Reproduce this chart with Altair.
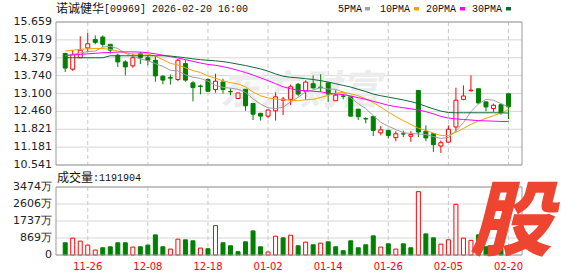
import altair as alt
import pandas as pd

dates = ["11-21","11-24","11-25","11-26","11-27","11-28","12-01","12-02","12-03","12-04",
         "12-05","12-08","12-09","12-10","12-11","12-12","12-15","12-16","12-17","12-18",
         "12-19","12-22","12-23","12-24","12-29","12-30","12-31","01-02","01-05","01-06",
         "01-07","01-08","01-09","01-12","01-13","01-14","01-15","01-16","01-19","01-20",
         "01-21","01-22","01-23","01-26","01-27","01-28","01-29","01-30","02-02","02-03",
         "02-04","02-05","02-06","02-09","02-10","02-11","02-12","02-13","02-16","02-20"]

opens = [14.53,13.97,14.38,14.73,15.03,15.12,14.86,14.47,14.23,14.09,
         14.53,14.38,14.29,13.72,13.67,13.60,14.17,13.48,13.37,13.60,
         13.24,13.51,13.17,12.92,13.25,12.74,12.39,12.29,12.48,12.86,
         12.89,13.43,13.18,13.45,13.33,13.48,12.84,13.01,12.98,12.54,
         12.20,12.28,11.69,11.78,11.52,11.66,11.57,13.21,11.75,11.66,
         11.22,11.36,11.90,12.89,13.20,13.27,12.80,12.56,12.70,13.09]
highs = [14.56,14.65,15.15,15.27,15.18,15.18,14.86,14.53,14.29,14.53,
         14.59,14.47,14.43,13.75,13.78,14.33,14.29,13.54,13.42,13.64,
         13.81,13.63,13.28,13.12,13.25,12.74,12.41,12.51,13.14,12.98,
         13.42,13.48,13.57,13.75,13.79,13.48,13.22,13.08,13.00,12.54,
         12.25,12.28,11.94,11.78,11.75,11.77,11.75,13.21,11.96,11.66,
         11.42,11.96,13.31,13.39,13.75,13.27,12.80,12.74,12.74,13.09]
lows = [13.87,13.91,14.37,14.58,14.86,14.77,14.53,14.05,13.75,14.02,
        14.15,14.11,13.52,13.43,13.42,13.54,13.52,12.82,13.07,13.16,
        13.13,13.10,13.04,12.92,12.48,12.15,12.13,12.21,12.13,12.33,
        12.69,13.00,12.86,13.28,13.16,12.80,12.84,12.89,12.27,12.15,
        12.03,11.58,11.60,11.49,11.39,11.54,11.37,11.54,11.39,11.01,
        10.97,11.36,11.72,12.86,13.17,12.74,12.46,12.44,12.34,12.18]
closes = [14.01,14.49,14.65,14.88,14.93,14.86,14.65,14.23,14.05,14.38,
          14.38,14.29,13.73,13.58,13.65,14.29,13.58,13.31,13.35,13.18,
          13.54,13.24,13.16,13.12,12.66,12.36,12.29,12.51,12.98,12.90,
          13.34,13.08,13.51,13.30,13.31,13.08,13.04,13.00,12.29,12.27,
          12.19,11.78,11.80,11.60,11.66,11.65,11.63,11.72,11.51,11.27,
          11.34,11.82,12.86,13.01,13.22,12.76,12.62,12.68,12.41,12.62]

ma5 = [14.45,14.50,14.55,14.60,14.62,14.76,14.79,14.71,14.54,14.43,
       14.34,14.27,14.17,14.07,13.93,13.91,13.77,13.68,13.64,13.54,
       13.39,13.32,13.29,13.25,13.14,12.91,12.72,12.59,12.56,12.61,
       12.80,12.96,13.16,13.23,13.31,13.26,13.25,13.15,12.94,12.74,
       12.56,12.31,12.07,11.93,11.81,11.70,11.67,11.65,11.63,11.56,
       11.49,11.53,11.76,12.06,12.45,12.73,12.89,12.86,12.74,12.62]
ma10 = [14.62,14.65,14.68,14.70,14.71,14.71,14.68,14.62,14.56,14.51,
        14.52,14.51,14.44,14.31,14.18,14.12,14.02,13.92,13.85,13.73,
        13.65,13.55,13.49,13.44,13.34,13.15,13.02,12.94,12.90,12.88,
        12.86,12.84,12.88,12.89,12.96,13.03,13.11,13.15,13.09,13.02,
        12.91,12.78,12.61,12.44,12.27,12.13,11.99,11.86,11.78,11.68,
        11.60,11.60,11.71,11.85,12.00,12.11,12.21,12.31,12.40,12.53]
ma20 = [14.46,14.48,14.50,14.52,14.54,14.56,14.57,14.58,14.59,14.59,
        14.58,14.56,14.52,14.47,14.42,14.37,14.31,14.25,14.19,14.14,
        14.11,14.06,14.00,13.93,13.85,13.76,13.66,13.56,13.45,13.34,
        13.27,13.22,13.20,13.18,13.16,13.11,13.08,13.06,13.01,12.95,
        12.89,12.82,12.75,12.68,12.63,12.59,12.55,12.51,12.45,12.37,
        12.28,12.22,12.19,12.17,12.15,12.13,12.12,12.11,12.10,12.10]
ma30 = [14.38,14.38,14.38,14.38,14.38,14.38,14.45,14.45,14.45,14.45,
        14.45,14.45,14.45,14.45,14.44,14.41,14.38,14.34,14.31,14.29,
        14.27,14.24,14.20,14.15,14.10,14.04,13.98,13.90,13.80,13.72,
        13.68,13.66,13.63,13.60,13.56,13.51,13.45,13.39,13.33,13.25,
        13.17,13.08,13.02,12.97,12.92,12.87,12.81,12.74,12.64,12.55,
        12.47,12.42,12.41,12.41,12.41,12.41,12.41,12.41,12.41,12.40]

volumes = [624,860,708,506,253,371,421,624,624,405,
           421,506,1028,421,303,809,776,725,354,320,
           1500,624,472,169,674,1231,421,152,961,877,
           1012,472,657,523,607,674,421,219,725,371,
           523,978,405,573,303,573,371,3237,1079,877,
           556,776,2590,860,750,1028,420,300,300,119]
vol_up = [0,1,1,1,1,0,0,0,0,1, 0,0,0,0,1,1,0,0,1,0,
          1,0,0,0,0,0,0,1,1,0, 1,0,1,0,1,0,0,0,0,0,
          0,0,1,0,1,0,0,1,0,0, 1,1,1,1,1,0,0,1,0,1]

price_ticks = [15.659, 15.019, 14.379, 13.740, 13.100, 12.460, 11.821, 11.181, 10.541]
vol_ticks = [3474, 2606, 1737, 869, 0]
vol_tick_labels = ["3474万", "2606万", "1737万", "869万", "0"]
x_tick_labels = ["11-26", "12-08", "12-18", "01-02", "01-14", "01-26", "02-05", "02-20"]

title_name = "诺诚健华"
title_rest = "[09969] 2026-02-20 16:00"
vol_title = "成交量"
vol_value = ":1191904"
ma_names = ["5PMA", "10PMA", "20PMA", "30PMA"]

RED = "#ff0000"
GREEN = "#008000"
MA_COLORS = ["#a0a0a0", "#f5a300", "#ff00ff", "#0b6b34"]

df = pd.DataFrame({"i": list(range(len(dates))), "date": dates, "open": opens, "high": highs,
                   "low": lows, "close": closes, "ma5": ma5, "ma10": ma10, "ma20": ma20,
                   "ma30": ma30, "vol": volumes, "vup": vol_up})
pt_df = pd.DataFrame({"v": price_ticks})
vt_df = pd.DataFrame({"v": vol_ticks, "label": vol_tick_labels})
xt_df = pd.DataFrame({"i": [dates.index(d) for d in x_tick_labels], "label": x_tick_labels})
one = pd.DataFrame({"k": [0]})

XS = alt.Scale(domain=[-0.56, 60.13], range=[56, 522], zero=False, nice=False)
YP = alt.Scale(domain=[10.541, 15.659], range=[165, 22], zero=False, nice=False)
YV = alt.Scale(domain=[0, 3474], range=[255, 187], zero=False, nice=False)

X = alt.X("i:Q", scale=XS, axis=None)

# ---------- price panel ----------
p_hgrid = alt.Chart(pt_df).mark_rule(color="#d6d6d6", strokeWidth=1).encode(
    y=alt.Y("v:Q", scale=YP, axis=None), x=alt.value(56), x2=alt.value(522))
p_vgrid = alt.Chart(xt_df).mark_rule(color="#c8c8c8", strokeWidth=1, strokeDash=[4, 3]).encode(
    x=X, y=alt.value(22), y2=alt.value(165))
watermark = alt.Chart(one).mark_text(text="东方财富", font="Noto Sans CJK SC", fontSize=40,
                                     fontWeight="bold", fontStyle="italic", color="#ececec",
                                     align="center", baseline="middle").encode(
    x=alt.value(300), y=alt.value(92))
wick = alt.Chart(df).mark_rule(strokeWidth=1).encode(
    x=X, y=alt.Y("low:Q", scale=YP, axis=None), y2="high:Q",
    stroke=alt.condition("datum.close >= datum.open", alt.value(RED), alt.value(GREEN)))
body = alt.Chart(df).mark_bar(size=4, strokeWidth=1).encode(
    x=X, y=alt.Y("open:Q", scale=YP, axis=None), y2="close:Q",
    fill=alt.condition("datum.close >= datum.open", alt.value("#ffffff"), alt.value(GREEN)),
    stroke=alt.condition("datum.close >= datum.open", alt.value(RED), alt.value(GREEN)))
ma_layers = [
    alt.Chart(df).mark_line(color=c, strokeWidth=1).encode(
        x=X, y=alt.Y(f"{f}:Q", scale=YP, axis=None))
    for f, c in zip(["ma5", "ma10", "ma20", "ma30"], MA_COLORS)
]
p_frame = alt.Chart(one).mark_rect(filled=False, stroke="#9a9a9a", strokeWidth=1).encode(
    x=alt.value(56), x2=alt.value(522), y=alt.value(22), y2=alt.value(165))
p_labels = alt.Chart(pt_df).mark_text(align="right", baseline="middle", font="DejaVu Sans",
                                      fontSize=11, color="#222222").encode(
    y=alt.Y("v:Q", scale=YP, axis=None), x=alt.value(52), text=alt.Text("v:Q", format=".3f"))

price = alt.layer(p_hgrid, p_vgrid, watermark, wick, body, *ma_layers, p_frame, p_labels)

# ---------- volume panel ----------
v_hgrid = alt.Chart(vt_df).mark_rule(color="#d6d6d6", strokeWidth=1).encode(
    y=alt.Y("v:Q", scale=YV, axis=None), x=alt.value(56), x2=alt.value(522))
v_vgrid = alt.Chart(xt_df).mark_rule(color="#c8c8c8", strokeWidth=1, strokeDash=[4, 3]).encode(
    x=X, y=alt.value(187), y2=alt.value(255))
v_bars = alt.Chart(df).mark_bar(size=4, strokeWidth=1).encode(
    x=X, y=alt.Y("vol:Q", scale=YV, axis=None),
    fill=alt.condition("datum.vup == 1", alt.value("#ffffff"), alt.value(GREEN)),
    stroke=alt.condition("datum.vup == 1", alt.value(RED), alt.value(GREEN)))
v_frame = alt.Chart(one).mark_rect(filled=False, stroke="#9a9a9a", strokeWidth=1).encode(
    x=alt.value(56), x2=alt.value(522), y=alt.value(187), y2=alt.value(255))
v_labels = alt.Chart(vt_df).mark_text(align="right", baseline="middle", font="DejaVu Sans",
                                      fontSize=11, color="#222222").encode(
    y=alt.Y("v:Q", scale=YV, axis=None), x=alt.value(52), text="label:N")

volume = alt.layer(v_hgrid, v_vgrid, v_bars, v_frame, v_labels)

# ---------- texts / decorations ----------
x_labels = alt.Chart(xt_df).mark_text(align="center", baseline="middle", font="DejaVu Sans",
                                      fontSize=10, color=RED).encode(
    x=X, y=alt.value(267), text="label:N")
t1 = alt.Chart(one).mark_text(text=title_name, font="Noto Sans CJK SC", fontSize=12,
                              align="left", baseline="middle", color="#111111").encode(
    x=alt.value(56), y=alt.value(8.5))
t2 = alt.Chart(one).mark_text(text=title_rest, font="Liberation Mono", fontSize=10,
                              align="left", baseline="middle", color="#111111").encode(
    x=alt.value(104), y=alt.value(8.5))
vt1 = alt.Chart(one).mark_text(text=vol_title, font="Noto Sans CJK SC", fontSize=12,
                               align="left", baseline="middle", color="#111111").encode(
    x=alt.value(57), y=alt.value(177.5))
vt2 = alt.Chart(one).mark_text(text=vol_value, font="Liberation Mono", fontSize=10,
                               align="left", baseline="middle", color="#111111").encode(
    x=alt.value(93), y=alt.value(177.5))

legend_x = [338, 380, 426, 472]
swatch_x = [365, 414, 460, 506]
legend_layers = []
for name, c, lx, sx in zip(ma_names, MA_COLORS, legend_x, swatch_x):
    legend_layers.append(alt.Chart(one).mark_text(text=name, font="Liberation Mono", fontSize=10,
                                                  align="left", baseline="middle",
                                                  color="#111111").encode(
        x=alt.value(lx), y=alt.value(8.5)))
    legend_layers.append(alt.Chart(one).mark_rect(color=c).encode(
        x=alt.value(sx), x2=alt.value(sx + 5), y=alt.value(7), y2=alt.value(10.5)))

logo = alt.Chart(one).mark_text(text="股", font="Noto Sans CJK SC", fontSize=82,
                                fontWeight=900, fontStyle="italic", color="#ee4530",
                                align="center", baseline="middle").encode(
    x=alt.value(511), y=alt.value(224))

deco = alt.layer(x_labels, t1, t2, vt1, vt2, *legend_layers, logo)

chart = alt.layer(price, volume, deco).resolve_scale(y="independent").properties(
    width=578, height=276, padding=0,
    autosize=alt.AutoSizeParams(type="none"),
).configure_view(stroke=None)

chart.save("out.html", embed_options={"renderer": "svg", "actions": False})
